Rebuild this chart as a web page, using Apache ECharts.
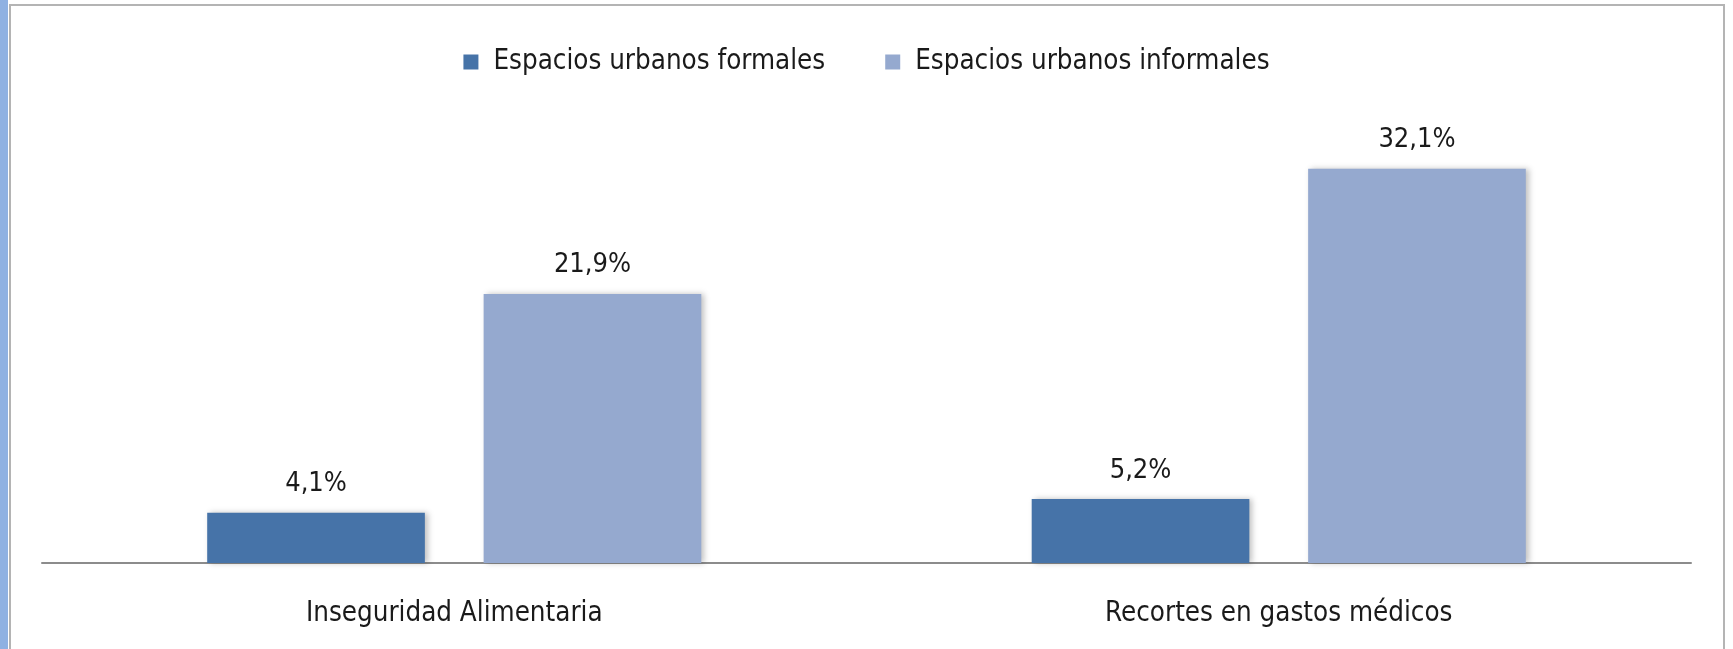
<!DOCTYPE html>
<html>
<head>
<meta charset="utf-8">
<script src="https://cdn.jsdelivr.net/npm/echarts@6/dist/echarts.min.js"></script>
<style>
  html, body { margin: 0; padding: 0; background: #fff; }
  #chart { width: 1733px; height: 649px; }
</style>
</head>
<body>
<div id="chart"></div>
<script>
const categories = ['Inseguridad Alimentaria', 'Recortes en gastos médicos']
const formales = [4.1, 5.2]
const informales = [21.9, 32.1]
const seriesNames = ['Espacios urbanos formales', 'Espacios urbanos informales']

const font = '"Liberation Sans Narrow", "DejaVu Sans Condensed", sans-serif'
const fmt = p => p.value.toFixed(1).replace('.', ',') + '%'

const chart = echarts.init(document.getElementById('chart'))
chart.setOption({
  animation: false,
  textStyle: { fontFamily: font },
  graphic: [
    { type: 'rect', shape: { x: 0, y: 0, width: 8, height: 649 }, style: { fill: '#8fb1e2' } },
    { type: 'rect', shape: { x: 10, y: 5, width: 1714, height: 660 },
      style: { fill: 'none', stroke: '#b4b4b4', lineWidth: 2 } }
  ],
  legend: {
    top: 43,
    left: 'center',
    itemWidth: 15,
    itemHeight: 15,
    itemGap: 60,
    textStyle: { fontFamily: font, fontSize: 27.5, color: '#1a1a1a', padding: [0, 0, 0, 10] },
    data: seriesNames.map(n => ({ name: n, icon: 'rect' }))
  },
  grid: { left: 42, right: 42, top: 133, bottom: 86 },
  xAxis: {
    type: 'category',
    data: categories,
    axisLine: { lineStyle: { color: '#8c8c8c', width: 2 } },
    axisTick: { show: false },
    axisLabel: { fontFamily: font, fontSize: 27.5, color: '#1a1a1a', margin: 37 }
  },
  yAxis: {
    type: 'value',
    min: 0,
    max: 35,
    show: false,
    splitLine: { show: false }
  },
  series: [
    {
      name: seriesNames[0],
      type: 'bar',
      data: formales,
      barWidth: '26.4%',
      barGap: '27%',
      itemStyle: { color: '#4673a8', shadowColor: 'rgba(0,0,0,0.25)', shadowBlur: 6, shadowOffsetX: 3 },
      label: { show: true, position: 'top', distance: 15, formatter: fmt,
        fontFamily: font, fontSize: 27, color: '#1a1a1a' }
    },
    {
      name: seriesNames[1],
      type: 'bar',
      data: informales,
      barWidth: '26.4%',
      itemStyle: { color: '#95a9cf', shadowColor: 'rgba(0,0,0,0.25)', shadowBlur: 6, shadowOffsetX: 3 },
      label: { show: true, position: 'top', distance: 15, formatter: fmt,
        fontFamily: font, fontSize: 27, color: '#1a1a1a' }
    }
  ]
})
</script>
</body>
</html>
